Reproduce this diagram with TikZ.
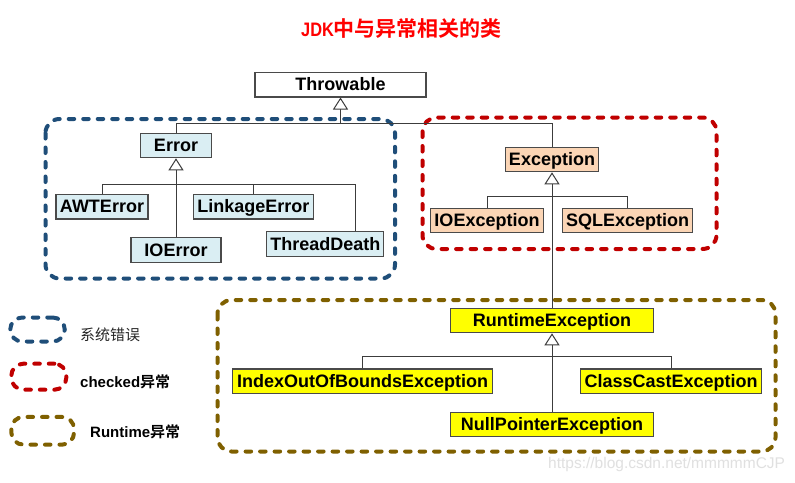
\documentclass[tikz,border=0pt]{standalone}
\usepackage{fontspec}
\usepackage{graphicx}
\setmainfont{Liberation Sans}
\newfontfamily\cjk{Noto Sans CJK SC}[BoldFont={Noto Sans CJK SC Bold}]
\usetikzlibrary{arrows.meta}
\definecolor{grpblue}{HTML}{1F4E79}
\definecolor{grpred}{HTML}{C00000}
\definecolor{grpbrown}{HTML}{7F6000}
\definecolor{errf}{HTML}{DAEEF3}
\definecolor{excf}{HTML}{FBD5B5}
\definecolor{rtf}{HTML}{FFFF00}
\definecolor{titred}{HTML}{FF0000}
\definecolor{boxline}{HTML}{4A4A4A}
\definecolor{connline}{HTML}{3C3C3C}
\begin{document}
\begin{tikzpicture}[x=1pt,y=-1pt,
  cls/.style={draw=boxline, line width=1.1pt, minimum height=24.5pt, inner sep=0pt,
    font=\fontsize{18}{18}\selectfont\bfseries, text height=13pt, text depth=0.5pt},
  grp/.style={line width=4pt, dash pattern=on 5.5pt off 9pt, line cap=round, rounded corners=14pt},
  leg/.style={grp, rounded corners=12pt, inner sep=0pt},
  conn/.style={draw=connline, line width=1pt},
  gen/.style={conn, -{Triangle[open, length=12pt, width=15pt, fill=white, line width=1pt]}},
  legtxt/.style={anchor=base west, inner sep=0pt, font=\fontsize{15}{15}\selectfont}
]
\useasboundingbox[fill=white] (0,0) rectangle (795,482);

% title
\node[anchor=base west, inner sep=0pt, text=titred] (title) at (301,36)
  {\fontsize{19.5}{19.5}\selectfont\bfseries\scalebox{0.84}[1]{JDK}\fontsize{21}{21}\selectfont\cjk\bfseries 中与异常相关的类};

% groups
\draw[grp, draw=grpblue] (45.5,119) rectangle (395,278.5);
\draw[grp, draw=grpred] (422.5,117.5) rectangle (716.5,249);
\draw[grp, draw=grpbrown] (217.5,300) rectangle (775.5,451.5);

% legend
\node[leg, draw=grpblue, minimum width=54.5pt, minimum height=24pt] (lgb) at (37.5,329.5) {};
\node[leg, draw=grpred, minimum width=55pt, minimum height=26pt] (lgr) at (38.8,376.7) {};
\node[leg, draw=grpbrown, minimum width=62.7pt, minimum height=27.7pt] (lgy) at (42.7,430.8) {};
\node[legtxt, text=black!85] (lt1) at (80,340) {\cjk 系统错误};
\node[legtxt] (lt2) at (80,387.3) {\bfseries checked\cjk 异常};
\node[legtxt] (lt3) at (90,437.3) {\bfseries Runtime\cjk 异常};

% classes
\node[cls, fill=white, minimum width=171pt] (thr) at (340.5,84.7) {Throwable};

\node[cls, fill=errf, minimum width=71pt] (err) at (176,145.5) {Error};
\node[cls, fill=errf, minimum width=92pt] (awt) at (102,206.7) {AWTError};
\node[cls, fill=errf, minimum width=120pt] (link) at (253.3,206.7) {LinkageError};
\node[cls, fill=errf, minimum width=90pt] (ioerr) at (176,250) {IOError};
\node[cls, fill=errf, minimum width=117pt] (td) at (325.3,243.8) {ThreadDeath};

\node[cls, fill=excf, minimum width=93pt] (exc) at (552,159.5) {Exception};
\node[cls, fill=excf, minimum width=113pt] (ioex) at (487,220.5) {IOException};
\node[cls, fill=excf, minimum width=130pt] (sql) at (627.7,220.5) {SQLException};

\node[cls, fill=rtf, minimum width=203pt] (rte) at (552,320.5) {RuntimeException};
\node[cls, fill=rtf, minimum width=260pt] (ioob) at (362.7,381.2) {IndexOutOfBoundsException};
\node[cls, fill=rtf, minimum width=181pt] (cce) at (671.2,381.2) {ClassCastException};
\node[cls, fill=rtf, minimum width=203pt] (npe) at (552,424.5) {NullPointerException};

% bus junctions
\coordinate (tb) at (340.5,123.5);
\coordinate (eb) at (176,184);
\coordinate (xb) at (552,196.7);
\coordinate (rb) at (552,356.5);

% Throwable
\draw[conn] (err.north) |- (tb);
\draw[conn] (exc.north) |- (tb);
\draw[gen] (tb) -- (thr.south);

% Error
\draw[conn] (awt.north) |- (eb);
\draw[conn] (link.north) |- (eb);
\draw[conn] ([xshift=29.7pt]td.north) |- (eb);
\draw[conn] (ioerr.north) -- (eb);
\draw[gen] (eb) -- (err.south);

% Exception
\draw[conn] (ioex.north) |- (xb);
\draw[conn] (sql.north) |- (xb);
\draw[conn] (rte.north) -- (xb);
\draw[gen] (xb) -- (exc.south);

% RuntimeException
\draw[conn] (ioob.north) |- (rb);
\draw[conn] (cce.north) |- (rb);
\draw[conn] (npe.north) -- (rb);
\draw[gen] (rb) -- (rte.south);

% watermark
\node[anchor=base west, inner sep=0pt, text=black!12, font=\fontsize{15.5}{16}\selectfont] (wm) at (548,468) {https://blog.csdn.net/mmmmmCJP};
\end{tikzpicture}
\end{document}
